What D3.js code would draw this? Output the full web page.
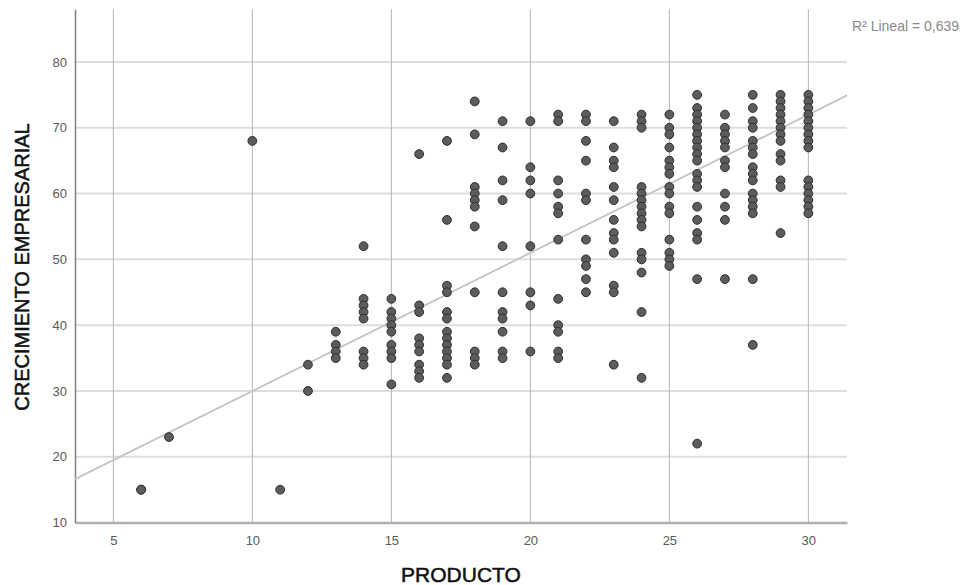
<!DOCTYPE html>
<html>
<head>
<meta charset="utf-8">
<script src="https://cdn.jsdelivr.net/npm/d3@7"></script>
<style>
  body { margin: 0; background: #fff; }
  text { font-family: "Liberation Sans", Arial, sans-serif; }
</style>
</head>
<body>
<div id="chart"></div>
<script>
// PRODUCTO values (x) and the CRECIMIENTO EMPRESARIAL values found at each one
var producto = [6, 7, 10, 11, 12, 13, 14, 15, 16, 17, 18, 19, 20, 21, 22, 23, 24, 25, 26, 27, 28, 29, 30];
var crecimiento = [
  [15, 15],
  [23],
  [68],
  [15],
  [34, 30],
  [39, 37, 36, 35],
  [52, 44, 43, 42, 41, 36, 35, 34],
  [44, 42, 41, 40, 39, 37, 36, 35, 31],
  [66, 43, 42, 38, 37, 36, 34, 33, 32],
  [68, 56, 46, 45, 42, 41, 39, 38, 37, 36, 35, 34, 32],
  [74, 69, 61, 60, 59, 58, 55, 45, 36, 35, 34],
  [71, 67, 62, 59, 52, 45, 42, 41, 39, 36, 35],
  [71, 64, 62, 60, 52, 45, 43, 36],
  [72, 71, 62, 60, 58, 57, 53, 44, 40, 39, 36, 35],
  [72, 71, 68, 65, 60, 59, 53, 50, 49, 47, 45],
  [71, 67, 65, 64, 61, 59, 56, 54, 53, 51, 46, 45, 34],
  [72, 71, 70, 61, 60, 59, 58, 57, 56, 55, 51, 50, 48, 42, 32],
  [72, 70, 69, 67, 65, 64, 63, 61, 60, 58, 57, 53, 51, 50, 49],
  [75, 73, 72, 71, 70, 69, 68, 67, 66, 65, 63, 62, 61, 58, 56, 54, 53, 47, 22],
  [72, 70, 69, 68, 67, 65, 64, 60, 58, 56, 47],
  [75, 73, 71, 70, 68, 67, 66, 64, 63, 62, 60, 59, 58, 57, 47, 37],
  [75, 74, 73, 72, 71, 70, 69, 68, 66, 65, 62, 61, 54],
  [75, 74, 73, 72, 71, 70, 69, 68, 67, 62, 61, 60, 59, 58, 57]
];
var xTicks = [5, 10, 15, 20, 25, 30];
var yTicks = [10, 20, 30, 40, 50, 60, 70, 80];
// linear fit: y = intercept + slope * x
var fit = [9.0, 2.1];
var r2Label = "R\u00b2 Lineal = 0,639";

var width = 965, height = 585;
var margin = {top: 9.3, right: 118, bottom: 62.4, left: 75};

var svg = d3.select("#chart")
  .append("svg")
  .attr("width", width)
  .attr("height", height);

var x = d3.scaleLinear()
  .domain([3.62, 31.39])
  .range([margin.left, width - margin.right]);

var y = d3.scaleLinear()
  .domain([10, 88])
  .range([height - margin.bottom, margin.top]);

// flatten into points
var points = [];
producto.forEach(function(p, i) {
  crecimiento[i].forEach(function(v) { points.push({x: p, y: v}); });
});

// horizontal grid lines
svg.append("g")
  .selectAll("line")
  .data(yTicks.slice(1))
  .enter()
  .append("line")
    .attr("x1", x.range()[0])
    .attr("x2", x.range()[1])
    .attr("y1", function(d) { return y(d); })
    .attr("y2", function(d) { return y(d); })
    .style("stroke", "#dedede")
    .style("stroke-width", 2);

// vertical grid lines
svg.append("g")
  .selectAll("line")
  .data(xTicks)
  .enter()
  .append("line")
    .attr("x1", function(d) { return x(d); })
    .attr("x2", function(d) { return x(d); })
    .attr("y1", y.range()[1])
    .attr("y2", y.range()[0])
    .style("stroke", "#b4b4b4")
    .style("stroke-width", 1);

// x axis
var xAxis = svg.append("g")
  .attr("transform", "translate(0," + y.range()[0] + ")")
  .call(d3.axisBottom(x).tickValues(xTicks).tickSize(0).tickPadding(13));
xAxis.select(".domain").style("stroke", "#b0b0b0").style("stroke-width", 2.5);
xAxis.selectAll("text").style("font-size", "13px").style("fill", "#5a5a5a");

// y axis
var yAxis = svg.append("g")
  .attr("transform", "translate(" + x.range()[0] + ",0)")
  .call(d3.axisLeft(y).tickValues(yTicks).tickSize(0).tickPadding(8));
yAxis.select(".domain").style("stroke", "#808080").style("stroke-width", 1.5);
yAxis.selectAll("text").style("font-size", "13px").style("fill", "#5a5a5a");

// fit line
var fx = x.domain();
svg.append("line")
  .attr("x1", x(fx[0]))
  .attr("y1", y(fit[0] + fit[1] * fx[0]))
  .attr("x2", x(fx[1]))
  .attr("y2", y(fit[0] + fit[1] * fx[1]))
  .style("stroke", "#c4c4c4")
  .style("stroke-width", 1.8);

// points
svg.append("g")
  .selectAll("circle")
  .data(points)
  .enter()
  .append("circle")
    .attr("cx", function(d) { return x(d.x); })
    .attr("cy", function(d) { return y(d.y); })
    .attr("r", 4.4)
    .style("fill", "#5c5c5c")
    .style("stroke", "#2e2e2e")
    .style("stroke-width", 1);

// R2 label
svg.append("text")
  .attr("x", 852)
  .attr("y", 31)
  .text(r2Label)
  .style("font-size", "14px")
  .style("fill", "#8a8a8a");

// axis titles
svg.append("text")
  .attr("x", (x.range()[0] + x.range()[1]) / 2)
  .attr("y", 582)
  .attr("text-anchor", "middle")
  .text("PRODUCTO")
  .style("font-size", "21px")
  .style("fill", "#111")
  .style("stroke", "#111")
  .style("stroke-width", 0.5);

svg.append("text")
  .attr("transform", "translate(29,267) rotate(-90)")
  .attr("text-anchor", "middle")
  .text("CRECIMIENTO EMPRESARIAL")
  .style("font-size", "20px")
  .style("fill", "#111")
  .style("stroke", "#111")
  .style("stroke-width", 0.5);
</script>
</body>
</html>
